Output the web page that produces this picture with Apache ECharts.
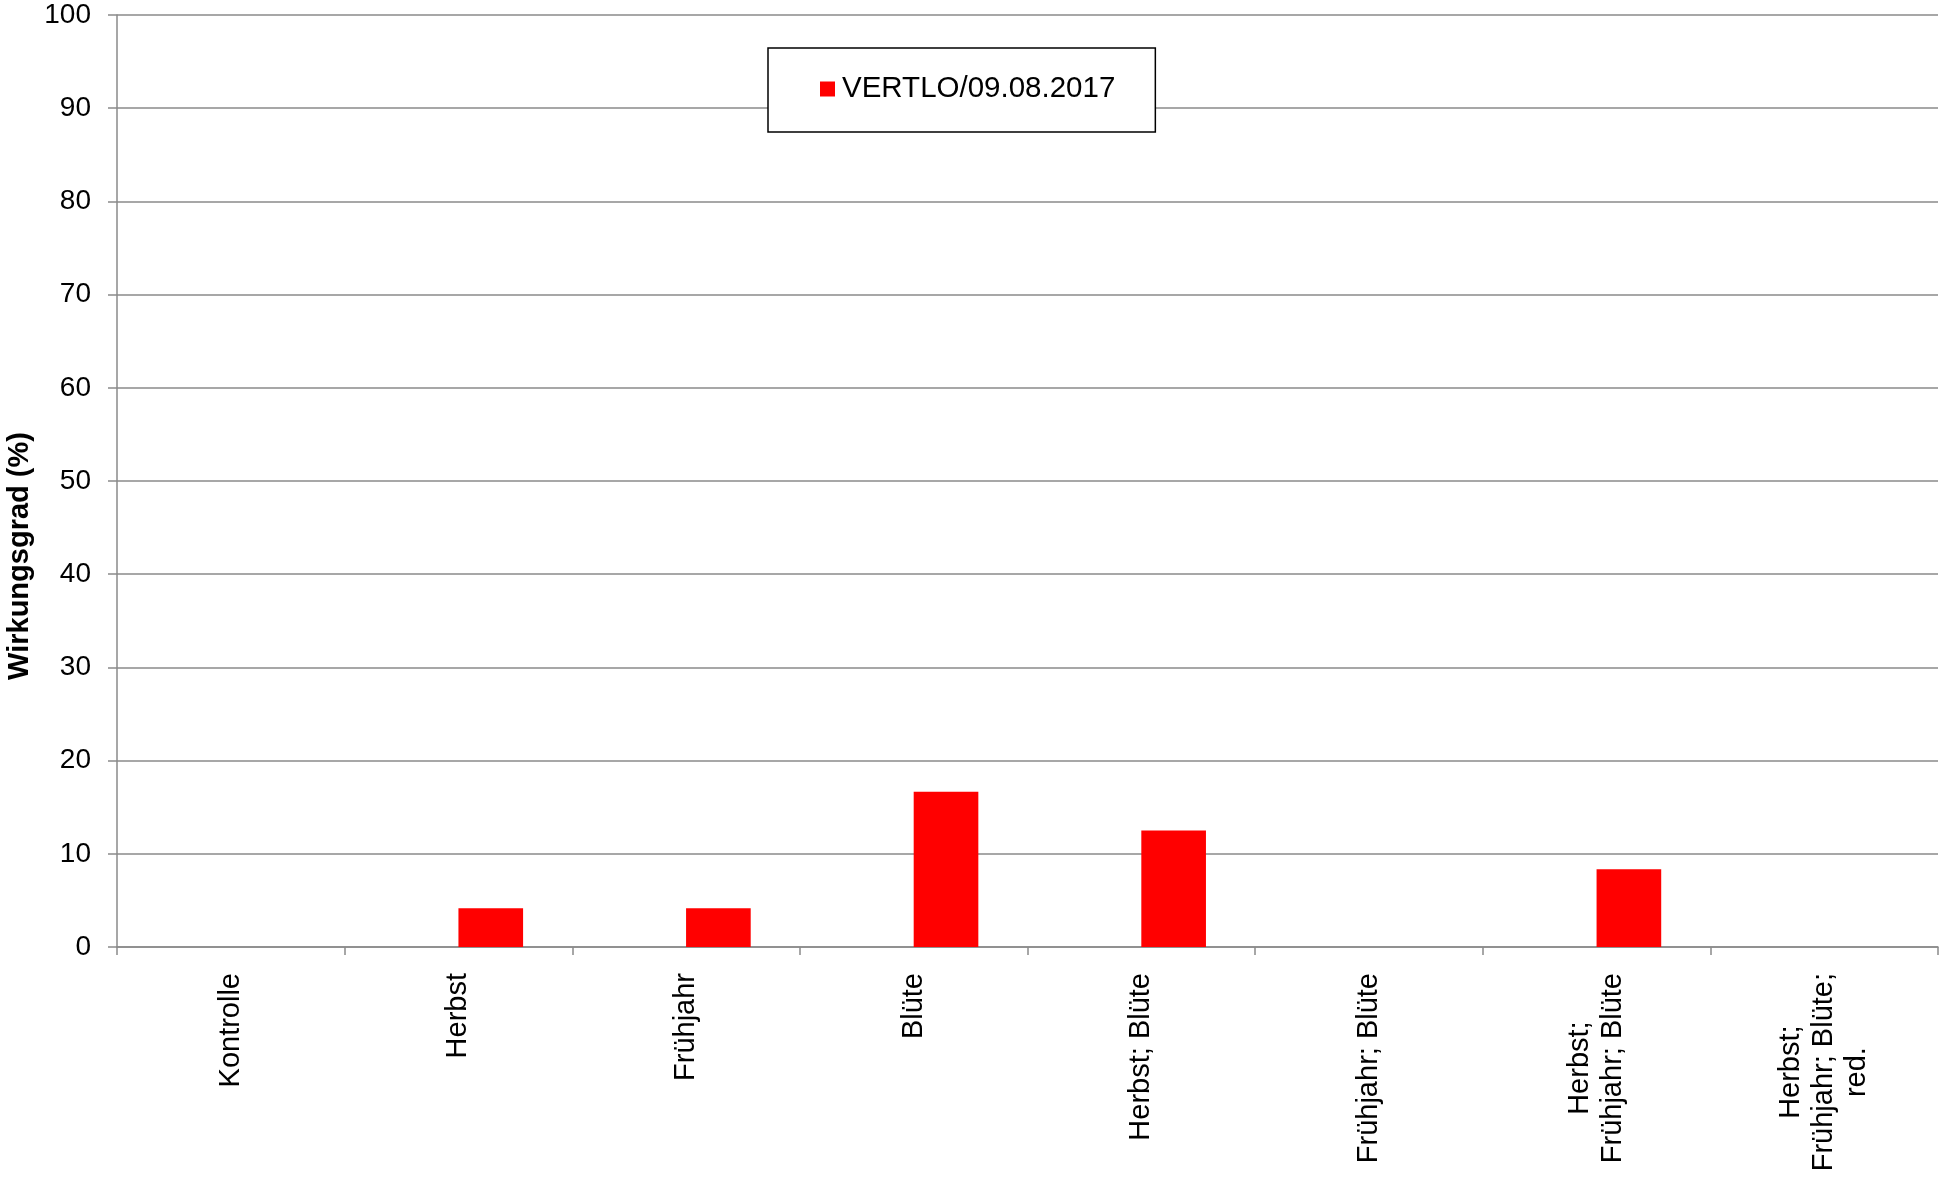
<!DOCTYPE html>
<html>
<head>
<meta charset="utf-8">
<script src="https://cdn.jsdelivr.net/npm/echarts@6/dist/echarts.min.js"></script>
<style>
html,body{margin:0;padding:0;background:#fff;}
#chart{width:1939px;height:1187px;}
</style>
</head>
<body>
<div id="chart"></div>
<script>
const categories = ["Kontrolle", "Herbst", "Frühjahr", "Blüte", "Herbst; Blüte", "Frühjahr; Blüte", "Herbst;\nFrühjahr; Blüte", "Herbst;\nFrühjahr; Blüte;\nred."];
const vertloValues = [0, 4.17, 4.17, 16.67, 12.5, 0, 8.33, 0];
const emptyValues = [null, null, null, null, null, null, null, null];
const seriesName = "VERTLO/09.08.2017";
const yTitle = "Wirkungsgrad (%)";

const FONT = "'Liberation Sans', Arial, sans-serif";
const GRID = '#8a8a8a';
const chart = echarts.init(document.getElementById('chart'));
chart.setOption({
  animation: false,
  backgroundColor: '#fff',
  textStyle: {fontFamily: FONT},
  grid: {left: 117, top: 15, right: 1, bottom: 240},
  legend: {
    data: [seriesName],
    left: 768, top: 48,
    padding: [26, 40, 28, 52],
    backgroundColor: '#fff',
    borderColor: '#000', borderWidth: 1.5,
    itemWidth: 15, itemHeight: 15, itemGap: 10,
    icon: 'rect',
    textStyle: {fontSize: 29.5, color: '#000', fontFamily: FONT, padding: [0,0,0,2]}
  },
  graphic: [{
    type: 'text', x: 20, y: 556, rotation: Math.PI/2,
    style: {text: yTitle, fontSize: 29, fontWeight: 'bold', fontFamily: FONT, fill: '#000', align: 'center', verticalAlign: 'middle'}
  }],
  xAxis: {
    type: 'category', data: categories,
    axisLine: {lineStyle: {color: GRID, width: 1.5}},
    axisTick: {show: true, length: 8, lineStyle: {color: GRID, width: 1.5}},
    axisLabel: {
      rotate: 90, margin: 26, interval: 0, color: '#000', fontSize: 29, fontFamily: FONT,
      lineHeight: 33,
      formatter: v => v.split('\n').map(l => '{c|' + l + '}').join('\n'),
      rich: {c: {align: 'center', fontSize: 29, lineHeight: 33, fontFamily: FONT, color: '#000'}}
    }
  },
  yAxis: {
    type: 'value', min: 0, max: 100, interval: 10,
    axisLine: {show: true, lineStyle: {color: GRID, width: 1.5}},
    axisTick: {show: true, length: 9, lineStyle: {color: GRID, width: 1.5}},
    axisLabel: {margin: 26, color: '#000', fontSize: 28, fontFamily: FONT},
    splitLine: {lineStyle: {color: GRID, width: 1.5}}
  },
  series: [
    {name: '', type: 'bar', data: emptyValues, barGap: '0%', barCategoryGap: '43.2%', itemStyle: {color: '#ff0000'}},
    {name: seriesName, type: 'bar', data: vertloValues, barGap: '0%', barCategoryGap: '43.2%', itemStyle: {color: '#ff0000'}}
  ]
});
</script>
</body>
</html>
